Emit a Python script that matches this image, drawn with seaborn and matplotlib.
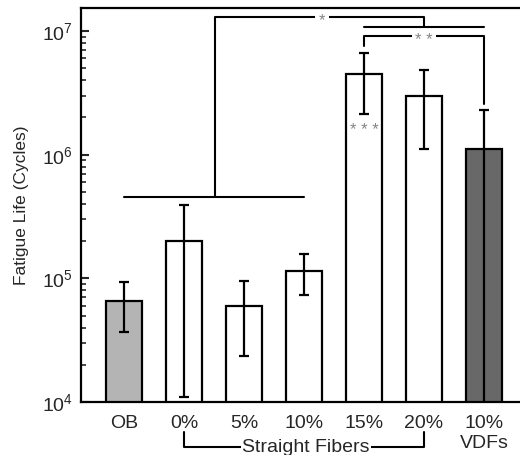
import numpy as np
import matplotlib
matplotlib.use("Agg")
import matplotlib.pyplot as plt
import matplotlib.transforms as mtransforms
import seaborn as sns
import pandas as pd

# data
grupos = ["OB", "0%", "5%", "10%", "15%", "20%", "10% VDFs"]
rotulos = ["OB", "0%", "5%", "10%", "15%", "20%", "10%\nVDFs"]
vida = [6.5e4, 2.0e5, 6.0e4, 1.15e5, 4.5e6, 3.0e6, 1.12e6]
erro_sup = [9.3e4, 3.9e5, 9.5e4, 1.57e5, 6.7e6, 4.85e6, 2.3e6]
erro_inf = [3.7e4, 1.1e4, 2.37e4, 7.3e4, 2.15e6, 1.12e6, 5.0e3]
cores = ["#b4b4b4", "white", "white", "white", "white", "white", "#686868"]

sns.set_style("white")
plt.rcParams["font.family"] = ["Liberation Sans", "DejaVu Sans"]
plt.rcParams["mathtext.fontset"] = "custom"
plt.rcParams["mathtext.rm"] = "Liberation Sans"

df = pd.DataFrame({"grupo": grupos, "vida": vida})

fig = plt.figure(figsize=(5.2, 4.55), dpi=100)
ax = fig.add_axes([81 / 520, 1 - 402 / 455, 1 - 81 / 520, 394 / 455])

sns.barplot(data=df, x="grupo", y="vida", hue="grupo", palette=cores,
            legend=False, width=0.6, edgecolor="black", linewidth=1.6, ax=ax)
ax.set_yscale("log")

# barras de erro assimetricas
v = np.array(vida)
yerr = [v - np.array(erro_inf), np.array(erro_sup) - v]
ax.errorbar(np.arange(len(v)), v, yerr=yerr, fmt="none", ecolor="black",
            elinewidth=1.6, capsize=3.6, capthick=1.6, zorder=5)

ax.set_ylim(1e4, 10 ** 7.186)
ax.set_xlim(-0.72, 6.6)
ax.set_xticks(range(len(rotulos)))
ax.set_xticklabels(rotulos, fontsize=14, linespacing=1.25)
ax.set_xlabel("")
ax.set_ylabel("Fatigue Life (Cycles)", fontsize=12.5, labelpad=9)

for lado in ["left", "bottom", "top"]:
    ax.spines[lado].set_linewidth(1.6)
    ax.spines[lado].set_color("black")
ax.spines["right"].set_visible(False)
ax.tick_params(axis="y", which="major", direction="in", length=6, width=1.5,
               labelsize=14, pad=6, left=True)
ax.tick_params(axis="y", which="minor", direction="in", length=3.5, width=1.2,
               left=True)
ax.tick_params(axis="x", length=0, pad=9)

# linhas de significancia
lc = dict(color="black", lw=1.5, clip_on=False, zorder=6)
cinza = "#858585"
ax.plot([0, 3], [4.52e5, 4.52e5], **lc)
ax.plot([1.52, 1.52, 5, 5], [4.52e5, 1.3e7, 1.3e7, 1.08e7], **lc)
ax.plot([4, 6], [1.08e7, 1.08e7], **lc)
ax.plot([4, 4, 6, 6], [7.5e6, 9.1e6, 9.1e6, 2.57e6], **lc)
caixa = dict(facecolor="white", edgecolor="none", pad=2.5)
estrelas = [("*", 3.3, 1.3e7, caixa), ("* *", 5.0, 9.1e6, caixa),
            ("* * *", 4.0, 1.68e6, None)]
for txt, xs, ys, bb in estrelas:
    ax.annotate(txt, (xs, ys), xytext=(0, -3), textcoords="offset points",
                ha="center", va="center", fontsize=12, color=cinza,
                bbox=bb, zorder=7)

# colchete "Straight Fibers" abaixo do eixo
trans = mtransforms.blended_transform_factory(ax.transData, ax.transAxes)
y_topo = (402 - 432) / 394
y_base = (402 - 447) / 394
ax.plot([1, 1, 5, 5], [y_topo, y_base, y_base, y_topo], transform=trans,
        color="black", lw=1.5, clip_on=False)
ax.text(3.03, y_base, "Straight Fibers", transform=trans, ha="center",
        va="center", fontsize=14, bbox=dict(facecolor="white",
        edgecolor="none", pad=1.0))

fig.savefig("out.png", dpi=100)
